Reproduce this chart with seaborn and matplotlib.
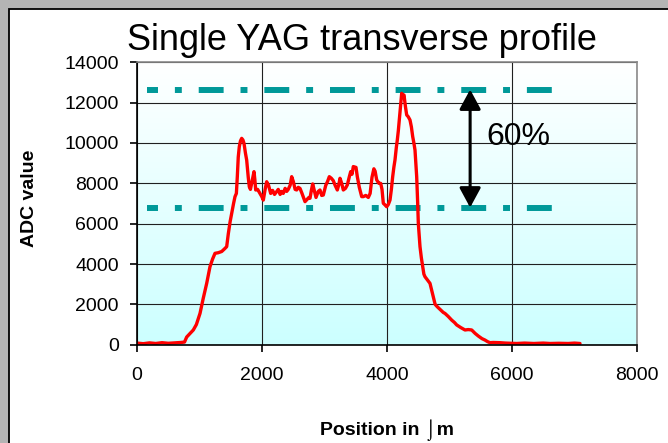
import matplotlib
matplotlib.use("Agg")
import matplotlib.pyplot as plt
from matplotlib.colors import LinearSegmentedColormap
from matplotlib.patches import Rectangle, FancyArrowPatch
import numpy as np
import pandas as pd
import seaborn as sns

# profile (position in um, ADC value)
position = [0, 100, 200, 300, 400, 500, 600, 700, 760, 795, 850, 901, 950, 1008, 1060,
            1115, 1168, 1210, 1248, 1300, 1355, 1400, 1435, 1461, 1490, 1515, 1545, 1568,
            1590, 1605, 1620, 1637, 1655, 1675, 1695, 1712, 1735, 1755, 1780, 1797, 1815,
            1835, 1855, 1872, 1885, 1899, 1930, 1968, 1995, 2021, 2050, 2075, 2105, 2139,
            2170, 2200, 2235, 2260, 2290, 2315, 2340, 2370, 2395, 2420, 2450, 2475, 2500,
            2530, 2555, 2580, 2608, 2640, 2688, 2720, 2750, 2768, 2790, 2811, 2840, 2864,
            2900, 2928, 2955, 2981, 3020, 3050, 3077, 3110, 3141, 3170, 3205, 3230, 3248,
            3275, 3301, 3335, 3365, 3395, 3419, 3440, 3461, 3504, 3525, 3557, 3595, 3621,
            3660, 3701, 3730, 3760, 3790, 3810, 3835, 3870, 3899, 3920, 3941, 3968, 3995,
            4021, 4048, 4070, 4091, 4110, 4128, 4150, 4165, 4181, 4197, 4215, 4235, 4255,
            4272, 4295, 4315, 4340, 4368, 4390, 4411, 4430, 4448, 4462, 4475, 4491, 4501,
            4515, 4528, 4550, 4571, 4590, 4608, 4650, 4688, 4715, 4741, 4770, 4805, 4850,
            4900, 4928, 4980, 5035, 5080, 5115, 5180, 5248, 5300, 5355, 5410, 5461, 5520,
            5568, 5610, 5648, 5700, 5808, 5900, 6000, 6075, 6200, 6350, 6500, 6608, 6750,
            6900, 7000, 7088]
adc = [80, 50, 90, 60, 100, 70, 90, 110, 130, 380, 560, 730, 1000, 1550, 2300,
       3040, 3870, 4250, 4530, 4560, 4620, 4750, 4860, 5500, 6100, 6510, 7000, 7340,
       7500, 8330, 9300, 9820, 10100, 10230, 10150, 9980, 9500, 9150, 8300, 7830, 7700,
       8000, 8300, 8580, 8200, 7670, 7700, 7500, 7350, 7170, 7700, 8080, 7900, 7500,
       7650, 7450, 7590, 7700, 7450, 7600, 7500, 7750, 7600, 7700, 7900, 8330, 8100,
       7700, 7670, 7800, 7750, 7500, 7090, 7200, 7300, 7260, 7650, 7970, 7600, 7300,
       7600, 7670, 7400, 7420, 7900, 8100, 8330, 8250, 8130, 7900, 7670, 7950, 8250,
       8000, 7670, 7750, 7920, 8300, 8580, 8450, 8830, 8790, 8330, 7800, 7340, 7340,
       7400, 7300, 7500, 8300, 8720, 8600, 8170, 8000, 8000, 7700, 7010, 6930, 6840,
       6950, 7170, 7700, 8330, 8800, 9160, 9800, 10150, 10600, 11140, 11800, 12460, 12300,
       12380, 11800, 11390, 11300, 11140, 10800, 10320, 10000, 9650, 9000, 8330, 7010, 6020,
       5400, 4860, 4300, 3870, 3500, 3370, 3200, 3040, 2700, 2380, 2000, 1880, 1750,
       1600, 1550, 1400, 1220, 1100, 980, 850, 730, 750, 730, 560, 430, 300,
       230, 150, 100, 110, 100, 80, 70, 60, 80, 60, 80, 60, 70,
       60, 80, 60]

levels = [12650, 6800]      # dash-dot reference lines
level_span = [165, 6672]
arrow_x = 5330
label_pct = "60%"

x_ticks = [0, 2000, 4000, 6000, 8000]
y_ticks = list(range(0, 14001, 2000))

df = pd.DataFrame({"pos": position, "adc": adc})

sns.set_style("white")
plt.rcParams["font.family"] = ["Liberation Sans", "DejaVu Sans"]
plt.rcParams["text.color"] = "black"
plt.rcParams["axes.labelcolor"] = "black"
plt.rcParams["xtick.color"] = "black"
plt.rcParams["ytick.color"] = "black"

fig = plt.figure(figsize=(6.68, 4.43), dpi=100)
fig.patch.set_facecolor("#b4b4b4")
# white slide panel with black top/left edge
fig.patches.append(Rectangle((8.5 / 668, -0.05), 1.1, (443 - 8.5) / 443 + 0.05,
                             transform=fig.transFigure, facecolor="white",
                             edgecolor="black", lw=1.3, zorder=-5))

ax = fig.add_axes([137 / 668, 1 - 344.7 / 443, 500 / 668, 282.4 / 443])
ax.set_xlim(0, 8000)
ax.set_ylim(0, 14000)

# background gradient: white at top to light cyan at bottom
cmap = LinearSegmentedColormap.from_list("bg", ["#ccffff", "#ffffff"])
grad = np.linspace(0, 1, 256).reshape(-1, 1)
ax.imshow(grad, cmap=cmap, origin="lower", aspect="auto",
          extent=[0, 8000, 0, 14000], zorder=0)

ax.set_xticks(x_ticks)
ax.set_yticks(y_ticks)
ax.grid(True, color="#202020", lw=0.8)
for g in ax.get_xgridlines() + ax.get_ygridlines():
    g.set_zorder(0.5)

for y in levels:
    ax.plot(level_span, [y, y], color="#009999", lw=4.3,
            linestyle=(2.33, (4.17, 2.83, 1.16, 2.83)),
            dash_capstyle="butt", zorder=2)

sns.lineplot(data=df, x="pos", y="adc", color="red", lw=2.4, estimator=None,
             sort=False, ax=ax, zorder=3)

arrow = FancyArrowPatch((arrow_x, levels[0]), (arrow_x, levels[1]),
                        arrowstyle="<|-|>,head_length=1.2,head_width=0.65",
                        mutation_scale=10, color="black", lw=2.2,
                        shrinkA=0, shrinkB=0, zorder=4)
ax.add_patch(arrow)
ax.text(5595, 10313, label_pct, fontsize=23, ha="left", va="center", zorder=5)

for side in ["left", "bottom"]:
    ax.spines[side].set_color("black")
    ax.spines[side].set_linewidth(1.2)
for side in ["top", "right"]:
    ax.spines[side].set_color("#8a8a8a")
    ax.spines[side].set_linewidth(1.2)
for sp in ax.spines.values():
    sp.set_zorder(6)

ax.tick_params(axis="both", direction="out", length=5, width=1.2, color="black",
               labelsize=14)
ax.tick_params(axis="y", pad=8, left=True)
ax.tick_params(axis="x", pad=11, bottom=True)

ax.set_xlabel("Position in \u2321m", fontsize=14, fontweight="bold")
ax.xaxis.label.set_va("baseline")
ax.xaxis.set_label_coords(0.5, (344.7 - 435) / 282.4)
ax.set_ylabel("ADC value", fontsize=14, fontweight="bold")
ax.yaxis.label.set_va("center")
ax.yaxis.set_label_coords((29 - 137) / 500, (344.7 - 198.5) / 282.4)

fig.text(362 / 668, 1 - 50 / 443, "Single YAG transverse profile", fontsize=26,
         ha="center", va="baseline")

fig.savefig("out.png", dpi=100, facecolor=fig.get_facecolor())
